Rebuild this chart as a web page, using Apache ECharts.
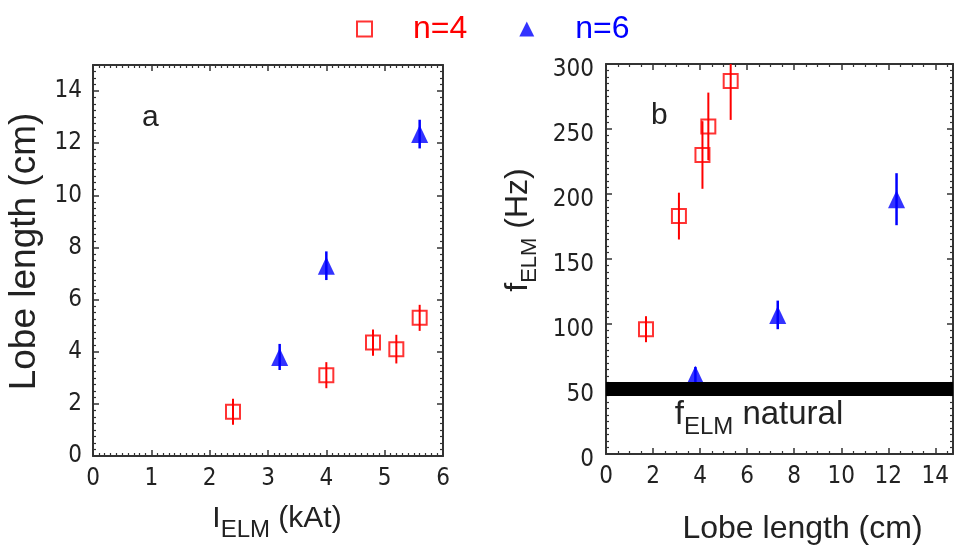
<!DOCTYPE html>
<html>
<head>
<meta charset="utf-8">
<script src="https://cdn.jsdelivr.net/npm/echarts@6/dist/echarts.min.js"></script>
<style>
  html, body { margin: 0; padding: 0; background: #fff; }
  #chart { width: 954px; height: 552px; }
</style>
</head>
<body>
<div id="chart"></div>
<script>
// n=4 configuration: coil current, lobe length and ELM frequency
const currentN4 = [2.4, 4.0, 4.8, 5.2, 5.6];
const lobeN4 = [1.7, 3.1, 4.35, 4.1, 5.3];
const lobeErrN4 = [0.5, 0.5, 0.5, 0.55, 0.5];
const freqN4 = [96, 183, 252, 230, 287];
const freqErrN4 = [10, 18, 26, 26, 30];

// n=6 configuration
const currentN6 = [3.2, 4.0, 5.6];
const lobeN6 = [3.8, 7.3, 12.35];
const lobeErrN6 = [0.5, 0.55, 0.55];
const freqN6 = [61, 107, 196];
const freqErrN6 = [6, 11, 20];

// natural ELM frequency (horizontal band in panel b)
const naturalFreq = 50;

const seriesNames = ['n=4', 'n=6'];
const RED = '#ff0000';
const BLUE = '#0000ff';
const INK = '#222';
const NARROW = '"Liberation Sans Narrow", "DejaVu Sans Condensed", "Liberation Sans", Arial, sans-serif';
const SANS = '"Liberation Sans", Arial, Helvetica, sans-serif';

const lineStyle = { color: '#333', width: 2 };

function frameAxis(opts) {
  const base = {
    type: 'value',
    gridIndex: opts.grid,
    min: opts.min,
    max: opts.max,
    interval: opts.interval,
    position: opts.position,
    axisLine: { show: true, onZero: false, lineStyle: lineStyle },
    axisTick: { show: true, inside: true, length: 6, lineStyle: { color: '#333', width: 1.5 } },
    minorTick: { show: true, splitNumber: opts.minor, length: 3, lineStyle: { color: '#333', width: 1.2 } },
    splitLine: { show: false },
    minorSplitLine: { show: false },
    axisLabel: { show: false },
    silent: true
  };
  if (opts.labels) {
    base.axisLabel = Object.assign({
      show: true,
      color: INK,
      fontFamily: NARROW,
      fontSize: 24,
      margin: opts.labelMargin,
      showMaxLabel: opts.showMax !== false
    }, opts.labelExtra || {});
  }
  if (opts.name) {
    base.name = opts.name;
    base.nameLocation = 'middle';
    base.nameGap = opts.nameGap;
    base.nameTextStyle = opts.nameTextStyle;
  }
  return base;
}

function errorBars(name, xs, ys, errs, color, xAxisIndex, yAxisIndex, width) {
  return {
    name: name,
    type: 'custom',
    xAxisIndex: xAxisIndex,
    yAxisIndex: yAxisIndex,
    clip: true,
    silent: true,
    z: 3,
    data: xs.map((x, i) => [x, ys[i], errs[i]]),
    renderItem: function (params, api) {
      const x = api.value(0), y = api.value(1), e = api.value(2);
      const lo = api.coord([x, y - e]);
      const hi = api.coord([x, y + e]);
      return {
        type: 'line',
        shape: { x1: lo[0], y1: lo[1], x2: hi[0], y2: hi[1] },
        style: { stroke: color, lineWidth: width }
      };
    }
  };
}

const squareStyle = { color: 'rgba(255,255,255,0)', borderColor: RED, borderWidth: 2 };
const triangleStyle = { color: BLUE, borderColor: BLUE, borderWidth: 0 };

const option = {
  animation: false,
  backgroundColor: '#fff',
  legend: {
    left: 351,
    top: 8,
    itemWidth: 15,
    itemHeight: 15,
    itemGap: 52,
    selectedMode: false,
    textStyle: { fontFamily: SANS, fontSize: 32, padding: [0, 0, 0, 36] },
    data: [
      { name: seriesNames[0], textStyle: { color: RED } },
      { name: seriesNames[1], textStyle: { color: BLUE } }
    ]
  },
  grid: [
    { left: 93, right: 511, top: 65, bottom: 96 },
    { left: 606, right: 1, top: 64, bottom: 98 }
  ],
  xAxis: [
    frameAxis({
      grid: 0, min: 0, max: 6, interval: 1, position: 'bottom', minor: 10,
      labels: true, labelMargin: 11,
      name: '{m|I}{s|ELM}{m| (kAt)}', nameGap: 48,
      nameTextStyle: {
        color: INK, fontFamily: SANS, padding: [0, 0, 0, 18],
        rich: {
          m: { fontSize: 30, lineHeight: 30, verticalAlign: 'top', fontFamily: SANS, color: INK },
          s: { fontSize: 24, lineHeight: 24, padding: [14, 0, 0, 0], verticalAlign: 'top', fontFamily: SANS, color: INK }
        }
      }
    }),
    frameAxis({ grid: 0, min: 0, max: 6, interval: 1, position: 'top', minor: 10 }),
    frameAxis({
      grid: 1, min: 0, max: 14.75, interval: 2, position: 'bottom', minor: 4,
      labels: true, labelMargin: 11, showMax: false,
      name: 'Lobe length (cm)', nameGap: 59,
      nameTextStyle: { color: INK, fontFamily: SANS, fontSize: 32, padding: [0, 0, 0, 46] }
    }),
    frameAxis({ grid: 1, min: 0, max: 14.75, interval: 2, position: 'top', minor: 4 })
  ],
  yAxis: [
    frameAxis({
      grid: 0, min: 0, max: 15, interval: 2, position: 'left', minor: 8,
      labels: true, labelMargin: 11, showMax: false,
      name: 'Lobe length (cm)', nameGap: 50,
      nameTextStyle: { color: INK, fontFamily: SANS, fontSize: 37, padding: [0, 0, 0, 18] }
    }),
    frameAxis({ grid: 0, min: 0, max: 15, interval: 2, position: 'right', minor: 8 }),
    frameAxis({
      grid: 1, min: 0, max: 300, interval: 50, position: 'left', minor: 10,
      labels: true, labelMargin: 12, labelExtra: { verticalAlign: 'top', lineHeight: 12 },
      name: '{m|f}{s|ELM}{m| (Hz)}', nameGap: 72,
      nameTextStyle: {
        color: INK, fontFamily: SANS, padding: [0, 0, 0, 58],
        rich: {
          m: { fontSize: 32, lineHeight: 32, verticalAlign: 'top', fontFamily: SANS, color: INK },
          s: { fontSize: 22, lineHeight: 22, padding: [17, 0, 0, 0], verticalAlign: 'top', fontFamily: SANS, color: INK }
        }
      }
    }),
    frameAxis({ grid: 1, min: 0, max: 300, interval: 50, position: 'right', minor: 10 })
  ],
  graphic: [
    { type: 'text', left: 142, top: 103, silent: true, style: { text: 'a', font: '30px ' + SANS, fill: INK } },
    { type: 'text', left: 651, top: 101, silent: true, style: { text: 'b', font: '30px ' + SANS, fill: INK } }
  ],
  series: [
    {
      name: seriesNames[0], type: 'scatter', xAxisIndex: 0, yAxisIndex: 0,
      symbol: 'rect', symbolSize: 14, z: 4, silent: true,
      itemStyle: squareStyle,
      data: currentN4.map((x, i) => [x, lobeN4[i]])
    },
    {
      name: seriesNames[1], type: 'scatter', xAxisIndex: 0, yAxisIndex: 0,
      symbol: 'triangle', symbolSize: [17, 18], z: 4, silent: true,
      itemStyle: triangleStyle,
      data: currentN6.map((x, i) => [x, lobeN6[i]])
    },
    {
      name: seriesNames[0], type: 'scatter', xAxisIndex: 2, yAxisIndex: 2,
      symbol: 'rect', symbolSize: 14, z: 4, silent: true,
      itemStyle: squareStyle,
      data: lobeN4.map((x, i) => [x, freqN4[i]])
    },
    {
      name: seriesNames[1], type: 'scatter', xAxisIndex: 2, yAxisIndex: 2,
      symbol: 'triangle', symbolSize: [17, 18], z: 4, silent: true,
      itemStyle: triangleStyle,
      data: lobeN6.map((x, i) => [x, freqN6[i]]),
      markLine: {
        silent: true,
        symbol: ['none', 'none'],
        z: 10,
        lineStyle: { color: '#000', width: 14, type: 'solid' },
        data: [{ yAxis: naturalFreq }],
        label: {
          show: true,
          position: 'insideMiddleBottom',
          distance: 9,
          padding: [0, 41, 0, 0],
          formatter: '{m|f}{s|ELM}{m| natural}',
          rich: {
            m: { fontSize: 33, lineHeight: 32, verticalAlign: 'top', fontFamily: SANS, color: INK },
            s: { fontSize: 24, lineHeight: 24, padding: [17, 0, 0, 0], verticalAlign: 'top', fontFamily: SANS, color: INK }
          }
        }
      }
    },
    errorBars('n=4 error', currentN4, lobeN4, lobeErrN4, RED, 0, 0, 2),
    errorBars('n=6 error', currentN6, lobeN6, lobeErrN6, BLUE, 0, 0, 2.5),
    errorBars('n=4 error', lobeN4, freqN4, freqErrN4, RED, 2, 2, 2),
    errorBars('n=6 error', lobeN6, freqN6, freqErrN6, BLUE, 2, 2, 2.5)
  ]
};

const chart = echarts.init(document.getElementById('chart'), null, { renderer: 'canvas' });
chart.setOption(option);
</script>
</body>
</html>
